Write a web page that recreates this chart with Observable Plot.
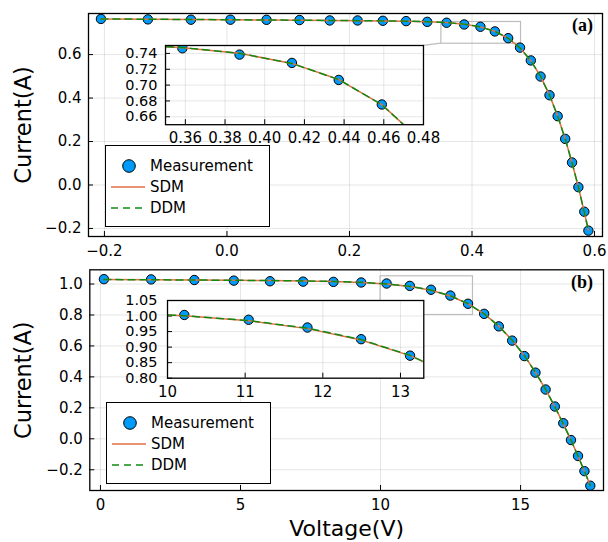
<!DOCTYPE html>
<html>
<head>
<meta charset="utf-8">
<script src="https://cdn.jsdelivr.net/npm/d3@7"></script>
<script src="https://cdn.jsdelivr.net/npm/@observablehq/plot@0.6"></script>
<style>
  body { margin: 0; background: #fff; }
  #root { position: relative; width: 608px; height: 542px; font-family: "DejaVu Sans", sans-serif; overflow: hidden; }
  #root > svg, #root > figure { position: absolute; margin: 0; }
</style>
</head>
<body>
<div id="root"></div>
<script>
// ---------- Data: panel (a) ----------
const voltageA = [-0.2057, -0.1291, -0.0588, 0.0057, 0.0646, 0.1185, 0.1678, 0.2132, 0.2545, 0.2924, 0.3269, 0.3585, 0.3873, 0.4137, 0.4373, 0.4590, 0.4784, 0.4960, 0.5119, 0.5265, 0.5398, 0.5521, 0.5633, 0.5736, 0.5833, 0.5900];
const measuredA = [0.7640, 0.7620, 0.7605, 0.7605, 0.7600, 0.7590, 0.7570, 0.7570, 0.7555, 0.7540, 0.7505, 0.7465, 0.7385, 0.7280, 0.7065, 0.6755, 0.6320, 0.5730, 0.4990, 0.4130, 0.3165, 0.2120, 0.1035, -0.0100, -0.1230, -0.2100];
const sdmA = [0.7641, 0.7627, 0.7614, 0.7602, 0.7591, 0.7580, 0.7571, 0.7561, 0.7550, 0.7536, 0.7513, 0.7473, 0.7401, 0.7274, 0.7070, 0.6753, 0.6308, 0.5719, 0.4996, 0.4136, 0.3175, 0.2122, 0.1023, -0.0087, -0.1255, -0.2085];
const ddmA = [0.7640, 0.7627, 0.7614, 0.7602, 0.7591, 0.7580, 0.7571, 0.7561, 0.7550, 0.7537, 0.7514, 0.7474, 0.7401, 0.7274, 0.7070, 0.6753, 0.6307, 0.5719, 0.4996, 0.4136, 0.3175, 0.2121, 0.1022, -0.0087, -0.1255, -0.2084];

// ---------- Data: panel (b) ----------
const voltageB = [0.1248, 1.8093, 3.3511, 4.7622, 6.0538, 7.2364, 8.3189, 9.3097, 10.2163, 11.0449, 11.8018, 12.4929, 13.1231, 13.6983, 14.2221, 14.6995, 15.1346, 15.5311, 15.8929, 16.2229, 16.5241, 16.7987, 17.0499, 17.2793, 17.4885];
const measuredB = [1.0315, 1.0300, 1.0260, 1.0220, 1.0180, 1.0155, 1.0140, 1.0100, 1.0035, 0.9880, 0.9630, 0.9255, 0.8725, 0.8075, 0.7265, 0.6345, 0.5345, 0.4275, 0.3185, 0.2085, 0.1010, -0.0080, -0.1110, -0.2090, -0.3030];
const sdmB = [1.0291, 1.0274, 1.0257, 1.0241, 1.0223, 1.0199, 1.0164, 1.0105, 1.0006, 0.9845, 0.9595, 0.9228, 0.8726, 0.8073, 0.7281, 0.6367, 0.5376, 0.4295, 0.3187, 0.2078, 0.0962, -0.0083, -0.1109, -0.2092, -0.3009];
const ddmB = [1.0292, 1.0275, 1.0258, 1.0242, 1.0224, 1.0200, 1.0166, 1.0108, 1.0010, 0.9852, 0.9610, 0.9242, 0.8733, 0.8073, 0.7280, 0.6366, 0.5376, 0.4295, 0.3187, 0.2078, 0.0962, -0.0083, -0.1109, -0.2092, -0.3009];

// ---------- Ticks ----------
const ticksAx = [-0.2, 0.0, 0.2, 0.4, 0.6];
const ticksAy = [-0.2, 0.0, 0.2, 0.4, 0.6];
const insetTicksAx = [0.36, 0.38, 0.40, 0.42, 0.44, 0.46, 0.48];
const insetTicksAy = [0.66, 0.68, 0.70, 0.72, 0.74];
const ticksBx = [0, 5, 10, 15];
const ticksBy = [-0.2, 0.0, 0.2, 0.4, 0.6, 0.8, 1.0];
const insetTicksBx = [10, 11, 12, 13];
const insetTicksBy = [0.80, 0.85, 0.90, 0.95, 1.00, 1.05];

const seriesNames = ["Measurement", "SDM", "DDM"];
const panelTags = ["(a)", "(b)"];
const axisTitles = { y: "Current(A)", x: "Voltage(V)" };

// ---------- Styles ----------
const FONT = "DejaVu Sans";
const C_MEAS = "#009AFA", C_SDM = "#E26F46", C_DDM = "#108A10";
const DASH = "7,5";

const rows = (xs, ys) => xs.map((x, i) => ({ x, y: ys[i] }));
const root = document.getElementById("root");

function place(node, left, top) {
  node.style.position = "absolute";
  node.style.left = left + "px";
  node.style.top = top + "px";
  root.appendChild(node);
  return node;
}

function seriesMarks(xs, meas, sdm, ddm, clip) {
  return [
    Plot.dot(rows(xs, meas), { x: "x", y: "y", r: 4.7, fill: C_MEAS, stroke: "black", strokeWidth: 1, clip }),
    Plot.line(rows(xs, sdm), { x: "x", y: "y", stroke: C_SDM, strokeWidth: 1.5, clip }),
    Plot.line(rows(xs, ddm), { x: "x", y: "y", stroke: C_DDM, strokeWidth: 1.5, strokeDasharray: DASH, clip })
  ];
}

function innerTicks(xTicks, yTicks) {
  return [
    Plot.axisX(xTicks, { tickSize: -5, tickFormat: () => "", label: null, stroke: "black", strokeWidth: 1 }),
    Plot.axisY(yTicks, { tickSize: -5, tickFormat: () => "", label: null, stroke: "black", strokeWidth: 1 })
  ];
}

function mainPanel(o) {
  return Plot.plot({
    width: 608, height: o.height,
    marginLeft: o.mL, marginRight: o.mR, marginTop: o.mT, marginBottom: o.mB,
    style: { fontFamily: FONT, fontSize: "15px", background: "white", overflow: "visible", color: "black" },
    x: { domain: o.xDomain },
    y: { domain: o.yDomain },
    marks: [
      Plot.gridX(o.xTicks, { stroke: "black", strokeOpacity: 0.1, strokeWidth: 1 }),
      Plot.gridY(o.yTicks, { stroke: "black", strokeOpacity: 0.1, strokeWidth: 1 }),
      Plot.axisX(o.xTicks, { tickSize: 0, tickPadding: o.xPad, tickFormat: o.xFmt, label: null, fontSize: 15 }),
      Plot.axisY(o.yTicks, { tickSize: 0, tickPadding: 7, tickFormat: o.yFmt, label: null, fontSize: 15 }),
      ...innerTicks(o.xTicks, o.yTicks),
      Plot.rect([o.lens], { x1: "x1", x2: "x2", y1: "y1", y2: "y2", fill: "none", stroke: "#bdbdbd", strokeWidth: 1.2 }),
      ...seriesMarks(o.xs, o.meas, o.sdm, o.ddm, false),
      Plot.frame({ stroke: "black", strokeWidth: 1.3 }),
      Plot.text([o.tag], { frameAnchor: "top-right", text: d => d, dx: o.tagDx, dy: 12, textAnchor: "middle", lineAnchor: "middle",
        fontFamily: "Liberation Serif", fontWeight: "bold", fontSize: 18 }),
      Plot.text([axisTitles.y], { frameAnchor: "left", text: d => d, rotate: -90, dx: o.yLabelDx, textAnchor: "middle", lineAnchor: "middle", fontSize: 22.5 }),
      ...(o.xTitle ? [Plot.text([axisTitles.x], { frameAnchor: "bottom", text: d => d, dy: 38, textAnchor: "middle", lineAnchor: "middle", fontSize: 22 })] : [])
    ]
  });
}

function insetPanel(o) {
  return Plot.plot({
    width: o.width, height: o.height,
    marginLeft: 55, marginRight: 20, marginTop: 5, marginBottom: 25,
    style: { fontFamily: FONT, fontSize: "15px", background: "transparent", overflow: "visible", color: "black" },
    x: { domain: o.xDomain },
    y: { domain: o.yDomain },
    marks: [
      Plot.frame({ fill: "white", stroke: "none" }),
      Plot.gridX(o.xTicks, { stroke: "black", strokeOpacity: 0.1, strokeWidth: 1 }),
      Plot.gridY(o.yTicks, { stroke: "black", strokeOpacity: 0.1, strokeWidth: 1 }),
      Plot.axisX(o.xTicks, { tickSize: 0, tickPadding: 8, tickFormat: o.xFmt, label: null, fontSize: 15 }),
      Plot.axisY(o.yTicks, { tickSize: 0, tickPadding: o.yPad, tickFormat: o.yFmt, label: null, fontSize: 14.5 }),
      ...innerTicks(o.xTicks, o.yTicks),
      ...seriesMarks(o.xs, o.meas, o.sdm, o.ddm, true),
      Plot.frame({ stroke: "black", strokeWidth: 1.3 })
    ]
  });
}

function legend(left, top) {
  const w = 165, h = 82;
  const svg = d3.create("svg").attr("width", w).attr("height", h)
    .style("font-family", FONT).style("font-size", "15px");
  svg.append("rect").attr("x", 0.5).attr("y", 0.5).attr("width", w - 1).attr("height", h - 1)
    .attr("fill", "white").attr("stroke", "black").attr("stroke-width", 1);
  const ys = [21, 42, 63];
  svg.append("circle").attr("cx", 24).attr("cy", ys[0]).attr("r", 6.3).attr("fill", C_MEAS).attr("stroke", "black");
  svg.append("line").attr("x1", 6).attr("x2", 40).attr("y1", ys[1]).attr("y2", ys[1]).attr("stroke", C_SDM).attr("stroke-width", 1.5);
  svg.append("line").attr("x1", 6).attr("x2", 40).attr("y1", ys[2]).attr("y2", ys[2]).attr("stroke", C_DDM).attr("stroke-width", 1.5).attr("stroke-dasharray", DASH);
  seriesNames.forEach((n, i) => {
    svg.append("text").attr("x", 45).attr("y", ys[i]).attr("dy", "0.36em").attr("fill", "black").text(n);
  });
  place(svg.node(), left, top);
}

// ---------- Panel (a) ----------
const lensA = { x1: 0.35, x2: 0.48, y1: 0.65, y2: 0.75 };
const plotA = mainPanel({
  height: 260, mL: 88, mR: 6, mT: 13, mB: 24,
  xDomain: [-0.226, 0.613], yDomain: [-0.237, 0.789],
  xTicks: ticksAx, yTicks: ticksAy, xFmt: d3.format(".1f"), yFmt: d3.format(".1f"), xPad: 9,
  lens: lensA, xs: voltageA, meas: measuredA, sdm: sdmA, ddm: ddmA,
  tag: panelTags[0], tagDx: -20, yLabelDx: -65, xTitle: false
});
place(plotA, 0, 0);

// connector from inset corner to lens rectangle
const insetA = { left: 110, top: 40.3, width: 333, height: 109.2 };
{
  const sx = plotA.scale("x"), sy = plotA.scale("y");
  const svg = d3.create("svg").attr("width", 608).attr("height", 260).style("pointer-events", "none");
  svg.append("line")
    .attr("x1", insetA.left + insetA.width - 20).attr("y1", insetA.top + 5)
    .attr("x2", sx.apply(lensA.x1)).attr("y2", sy.apply(lensA.y1))
    .attr("stroke", "#bdbdbd").attr("stroke-width", 1.2);
  place(svg.node(), 0, 0);
}

const plotAi = insetPanel({
  width: insetA.width, height: insetA.height,
  xDomain: [lensA.x1, lensA.x2], yDomain: [lensA.y1, lensA.y2],
  xTicks: insetTicksAx, yTicks: insetTicksAy, xFmt: d3.format(".2f"), yFmt: d3.format(".2f"), yPad: 8,
  xs: voltageA, meas: measuredA, sdm: sdmA, ddm: ddmA
});
place(plotAi, insetA.left, insetA.top);
legend(105, 145);

// ---------- Panel (b) ----------
const lensB = { x1: 10, x2: 13.3, y1: 0.80, y2: 1.05 };
const plotB = mainPanel({
  height: 282, mL: 89.3, mR: 5, mT: 9.3, mB: 52,
  xDomain: [-0.38, 17.96], yDomain: [-0.334, 1.092],
  xTicks: ticksBx, yTicks: ticksBy, xFmt: d3.format("d"), yFmt: d3.format(".1f"), xPad: 9,
  lens: lensB, xs: voltageB, meas: measuredB, sdm: sdmB, ddm: ddmB,
  tag: panelTags[1], tagDx: -21.5, yLabelDx: -66, xTitle: true
});
place(plotB, 0, 260);

const insetB = { left: 111.7, top: 295, width: 331.3, height: 107.7 };
const plotBi = insetPanel({
  width: insetB.width, height: insetB.height,
  xDomain: [lensB.x1, lensB.x2], yDomain: [lensB.y1, lensB.y2],
  xTicks: insetTicksBx, yTicks: insetTicksBy, xFmt: d3.format("d"), yFmt: d3.format(".2f"), yPad: 10,
  xs: voltageB, meas: measuredB, sdm: sdmB, ddm: ddmB
});
place(plotBi, insetB.left, insetB.top);
legend(106, 402);
</script>
</body>
</html>
